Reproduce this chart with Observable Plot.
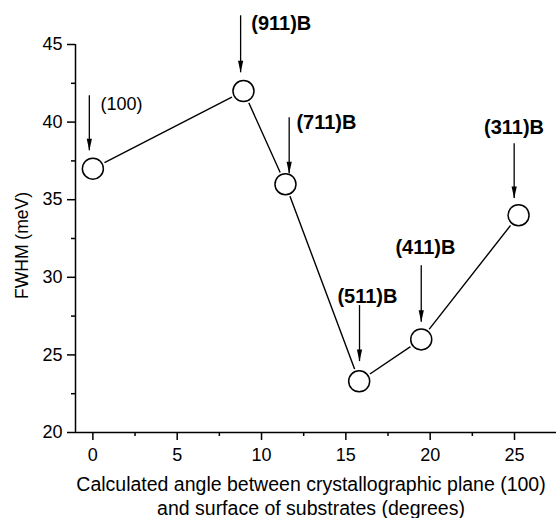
<!DOCTYPE html>
<html><head><meta charset="utf-8">
<script src="https://cdn.jsdelivr.net/npm/d3@7"></script>
<script src="https://cdn.jsdelivr.net/npm/@observablehq/plot@0.6"></script>
<style>body{margin:0;background:#fff}</style>
</head><body><div id="chart"></div>
<script>
// FWHM vs calculated angle between (100) plane and substrate surface
const planes = ["(100)", "(911)B", "(711)B", "(511)B", "(411)B", "(311)B"];
const angles = [0, 8.93, 11.42, 15.79, 19.47, 25.24];
const fwhm = [37, 42, 36, 23.3, 26, 34];
// Annotation arrows and labels (degrees / meV)
const arrowX = [-0.21, 8.76, 11.64, 15.81, 19.47, 24.98];
const arrowTop = [41.7, 46.85, 40.28, 28.18, 30.75, 38.61];
const arrowTip = [38.16, 43.18, 36.68, 24.57, 27.1, 35.07];
const labelX = [0.45, 9.39, 12.07, 16.28, 19.72, 24.97];
const labelY = [41.12, 46.34, 39.96, 28.76, 31.93, 39.64];
// Ticks
const xTicks = [0, 5, 10, 15, 20, 25];
const xMinor = [2.5, 7.5, 12.5, 17.5, 22.5];
const yTicks = [20, 25, 30, 35, 40, 45];
const yMinor = [22.5, 27.5, 32.5, 37.5, 42.5];
const xDomain = [-1.03, 27.49];
const yDomain = [20, 45];
const yTitle = "FWHM (meV)";
const xTitle = ["Calculated angle between crystallographic plane (100)", "and surface of substrates (degrees)"];

const points = angles.map((a, i) => ({angle: a, fwhm: fwhm[i], plane: planes[i]}));
const notes = planes.map((p, i) => ({plane: p, ax: arrowX[i], top: arrowTop[i], tip: arrowTip[i], lx: labelX[i], ly: labelY[i], i}));
const head = {draw(ctx) { ctx.moveTo(0, 0); ctx.lineTo(-2.6, -12); ctx.lineTo(2.6, -12); ctx.closePath(); }};

const chart = Plot.plot({
  width: 556, height: 518,
  marginLeft: 75, marginRight: 0, marginTop: 44, marginBottom: 86,
  style: {fontFamily: "'Liberation Sans', Arial, sans-serif", fontSize: "18px", background: "white", color: "black", overflow: "visible"},
  x: {domain: xDomain},
  y: {domain: yDomain},
  marks: [
    Plot.ruleX([xDomain[0]], {strokeWidth: 1.5}),
    Plot.ruleY([yDomain[0]], {strokeWidth: 1.5}),
    Plot.axisY(yTicks, {tickSize: 8, tickPadding: 5, strokeWidth: 1.5, label: null, fontSize: 18}),
    Plot.axisY(yMinor, {tickSize: 4, tickFormat: () => "", strokeWidth: 1.5, label: null}),
    Plot.axisX(xTicks, {tickSize: 8, tickPadding: 8, strokeWidth: 1.5, label: null, fontSize: 18}),
    Plot.axisX(xMinor, {tickSize: 4, tickFormat: () => "", strokeWidth: 1.5, label: null}),
    Plot.line(points, {x: "angle", y: "fwhm", stroke: "black", strokeWidth: 1.4}),
    Plot.dot(points, {x: "angle", y: "fwhm", r: 13, fill: "white", stroke: "none"}),
    Plot.dot(points, {x: "angle", y: "fwhm", r: 10.5, fill: "white", stroke: "black", strokeWidth: 1.5}),
    Plot.ruleX(notes, {x: "ax", y1: "top", y2: "tip", stroke: "black", strokeWidth: 1.3}),
    Plot.dot(notes, {x: "ax", y: "tip", symbol: head, fill: "black", stroke: "none"}),
    Plot.text(notes.filter(d => d.i === 0), {x: "lx", y: "ly", text: "plane", textAnchor: "start", fontSize: 18}),
    Plot.text(notes.filter(d => d.i >= 1 && d.i <= 2), {x: "lx", y: "ly", text: "plane", textAnchor: "start", fontSize: 20, fontWeight: "bold"}),
    Plot.text(notes.filter(d => d.i >= 3), {x: "lx", y: "ly", text: "plane", textAnchor: "middle", fontSize: 20, fontWeight: "bold"}),
    Plot.text([yTitle], {frameAnchor: "left", textAnchor: "middle", rotate: -90, dx: -53, dy: 7, fontSize: 17.5}),
    Plot.text([xTitle[0]], {frameAnchor: "bottom", dx: -5, dy: 58, fontSize: 19.5}),
    Plot.text([xTitle[1]], {frameAnchor: "bottom", dx: -5, dy: 82, fontSize: 19.5})
  ]
});
document.getElementById("chart").appendChild(chart);
</script>
</body></html>
